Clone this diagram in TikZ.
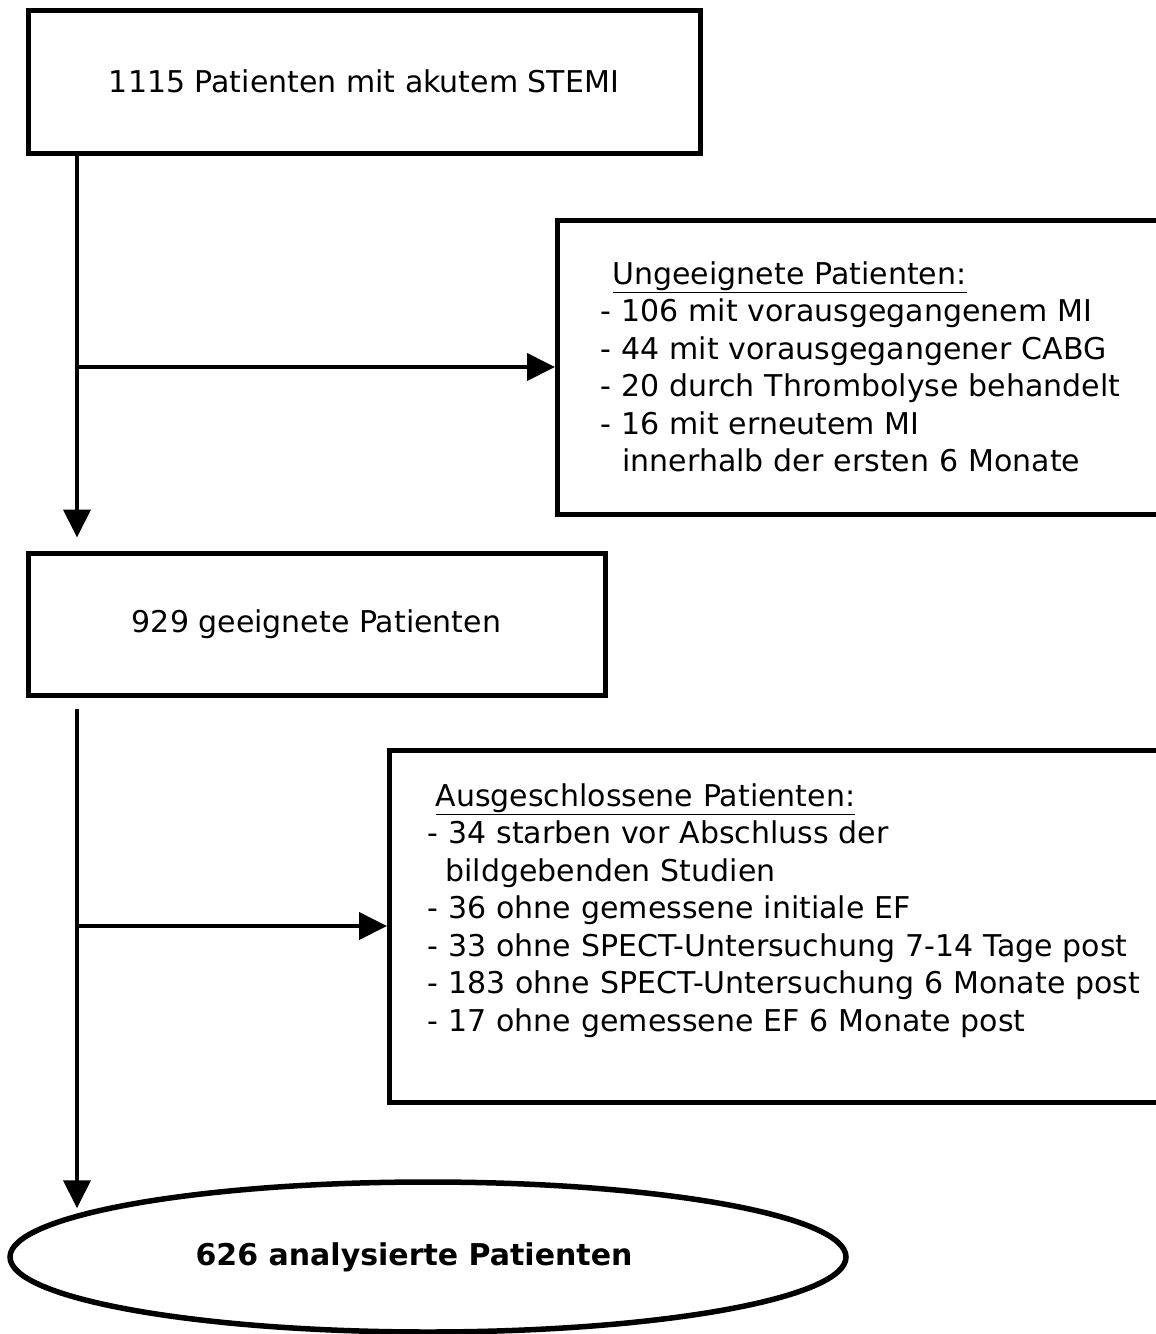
\documentclass[tikz,border=0pt]{standalone}
\usepackage{fontspec}
\setmainfont{DejaVu Sans}
\usepackage{tikz}
\usetikzlibrary{positioning}
\usetikzlibrary{calc}
\usetikzlibrary{shapes.geometric}
\usetikzlibrary{arrows.meta}

\begin{document}
\begin{tikzpicture}[x=1pt,y=-1pt,
  box/.style={draw, rectangle, line width=5pt, font=\fontsize{30pt}{37.5pt}\selectfont},
  listbox/.style={box, anchor=west, align=left, inner ysep=0pt},
  flow/.style={line width=4pt, -{Triangle[length=28pt,width=27pt]}}]
  \useasboundingbox (0,0) rectangle (1156,1334);

  \node[box, minimum width=672pt, minimum height=143pt] (stemi) at (364,81.5) {1115 Patienten mit akutem STEMI};
  \node[listbox, text width=620pt, inner xsep=43pt, minimum height=294pt] (unfit) at (555,367)
    {\hspace*{12pt}\underline{Ungeeignete Patienten:}\\
     - 106 mit vorausgegangenem MI\\
     - 44 mit vorausgegangener CABG\\
     - 20 durch Thrombolyse behandelt\\
     - 16 mit erneutem MI\\
     \hspace*{22pt}innerhalb der ersten 6 Monate};
  \node[box, minimum width=577pt, minimum height=142pt] (fit) at (316.5,624) {929 geeignete Patienten};
  \node[listbox, text width=800pt, inner xsep=38pt, minimum height=352pt] (excl) at (387,926)
    {\hspace*{8pt}\underline{Ausgeschlossene Patienten:}\\
     - 34 starben vor Abschluss der\\
     \hspace*{18pt}bildgebenden Studien\\
     - 36 ohne gemessene initiale EF\\
     - 33 ohne SPECT-Untersuchung 7-14 Tage post\\
     - 183 ohne SPECT-Untersuchung 6 Monate post\\
     - 17 ohne gemessene EF 6 Monate post\\
     \mbox{}};
  \node[ellipse, draw, line width=5.5pt, minimum width=836pt, minimum height=150pt,
        font=\fontsize{30pt}{37.5pt}\selectfont\bfseries] (done) at (428,1257)
    {\hspace*{-28pt}626 analysierte Patienten};

  \coordinate (s1) at ([xshift=51.5pt]stemi.south west);
  \coordinate (s2) at ([xshift=51.5pt,yshift=-11pt]fit.south west);
  \coordinate (e2) at ($(s2 |- done.north)+(0,29)$);

  \path[flow] (s1) edge ($(s1 |- fit.north)+(0,-13)$);
  \path[flow] (s1 |- unfit.west) edge (unfit.west);
  \path[flow] (s2) edge (e2);
  \path[flow] (s2 |- excl.west) edge (excl.west);
\end{tikzpicture}
\end{document}
